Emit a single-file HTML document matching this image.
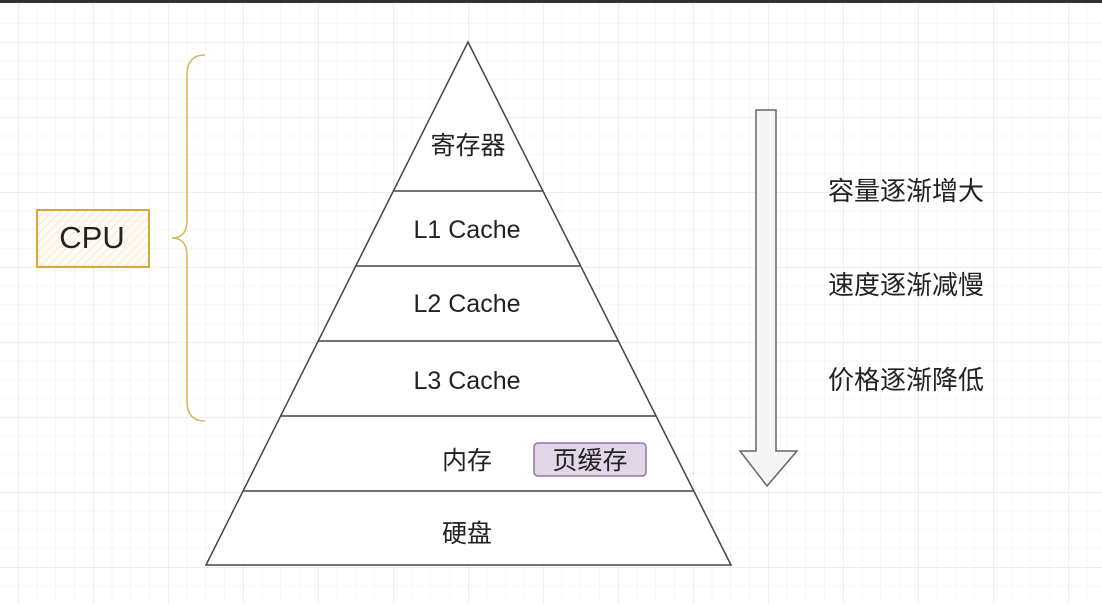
<!DOCTYPE html>
<html><head><meta charset="utf-8"><style>
body{margin:0;width:1102px;height:603px;overflow:hidden;background:#fff;font-family:"Liberation Sans","Noto Sans CJK SC",sans-serif;}
</style></head><body>
<svg width="1102" height="603" xmlns="http://www.w3.org/2000/svg">
<defs>
<pattern id="gm" width="18.75" height="18.75" patternUnits="userSpaceOnUse" x="18" y="42">
<path d="M0 0H18.75M0 0V18.75" stroke="#efefef" stroke-width="1" fill="none"/></pattern>
<pattern id="gM" width="75" height="75" patternUnits="userSpaceOnUse" x="18" y="42">
<path d="M0 0H75M0 0V75" stroke="#dcdcdc" stroke-width="1" fill="none"/></pattern>
<pattern id="hatch" width="6" height="6" patternUnits="userSpaceOnUse" patternTransform="rotate(45)">
<rect width="6" height="6" fill="#fffaf2"/><line x1="0" y1="0" x2="0" y2="6" stroke="#f3e3cc" stroke-width="1.5"/></pattern>
</defs>
<rect width="1102" height="603" fill="url(#gm)"/>
<rect width="1102" height="603" fill="url(#gM)"/>
<rect width="1102" height="3" fill="#333"/>
<path d="M205 55 Q187 55 187 75 V220 Q187 238 172 238 Q187 238 187 256 V401 Q187 421 205 421" fill="none" stroke="#d6b656" stroke-width="1.5"/>
<rect x="37" y="210" width="112" height="57" fill="url(#hatch)" stroke="#d6a73a" stroke-width="2"/>
<text x="92" y="248" font-size="31" text-anchor="middle" fill="#222">CPU</text>
<polygon points="468,42 731,565 206,565" fill="#fff" stroke="#444" stroke-width="1.5"/>
<g stroke="#444" stroke-width="1.5">
<line x1="393" y1="191" x2="543" y2="191"/>
<line x1="356" y1="266" x2="580" y2="266"/>
<line x1="318" y1="341" x2="618" y2="341"/>
<line x1="281" y1="416" x2="656" y2="416"/>
<line x1="243" y1="491" x2="693" y2="491"/>
</g>
<g font-size="25" fill="#222" text-anchor="middle">
<text x="468" y="154">寄存器</text>
<text x="467" y="238">L1 Cache</text>
<text x="467" y="312">L2 Cache</text>
<text x="467" y="389">L3 Cache</text>
<text x="467" y="469">内存</text>
<text x="467" y="542">硬盘</text>
</g>
<rect x="534" y="443" width="112" height="33" rx="4" fill="#e1d5e7" stroke="#9673a6" stroke-width="1.5"/>
<text x="590" y="469" font-size="25" text-anchor="middle" fill="#222">页缓存</text>
<polygon points="756,110 776,110 776,451 797,451 767,486 740,451 756,451" fill="#f5f5f5" stroke="#666" stroke-width="1.5"/>
<g font-size="26" fill="#222">
<text x="828" y="200">容量逐渐增大</text>
<text x="828" y="294">速度逐渐减慢</text>
<text x="828" y="389">价格逐渐降低</text>
</g>
</svg>
</body></html>
